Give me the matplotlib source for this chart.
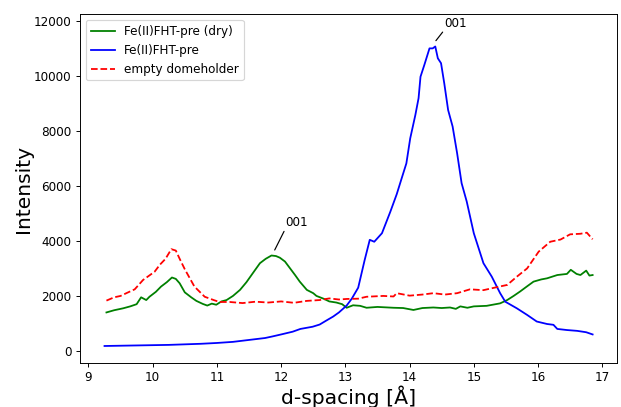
import matplotlib.pyplot as plt

# Fe(II)FHT-pre (dry)
x_dry = [9.28, 9.4, 9.54, 9.65, 9.75, 9.82, 9.9, 9.95, 10.05, 10.13, 10.22, 10.3, 10.36, 10.42,
         10.5, 10.6, 10.68, 10.78, 10.85, 10.92, 10.99, 11.07, 11.15, 11.25, 11.36, 11.46, 11.56,
         11.67, 11.76, 11.85, 11.92, 11.98, 12.06, 12.14, 12.22, 12.29, 12.4, 12.5, 12.55, 12.66,
         12.75, 12.86, 12.95, 13.02, 13.12, 13.23, 13.33, 13.5, 13.75, 13.9, 14.06, 14.2, 14.37,
         14.5, 14.63, 14.72, 14.79, 14.9, 15.0, 15.2, 15.41, 15.52, 15.62, 15.72, 15.83, 15.93,
         16.05, 16.14, 16.3, 16.45, 16.51, 16.6, 16.66, 16.75, 16.8, 16.85]
y_dry = [1400, 1480, 1550, 1620, 1700, 1950, 1850, 1970, 2150, 2340, 2500, 2670, 2620, 2460,
         2130, 1950, 1820, 1710, 1650, 1720, 1680, 1800, 1850, 2000, 2220, 2500, 2830,
         3190, 3350, 3470, 3450, 3390, 3250, 3000, 2750, 2520, 2220, 2100, 2000, 1900,
         1800, 1760, 1700, 1570, 1660, 1640, 1570, 1600, 1570, 1560, 1490, 1560, 1580,
         1560, 1580, 1530, 1620, 1570, 1620, 1640, 1730, 1850, 2000, 2160, 2350, 2520,
         2600, 2640, 2760, 2800, 2950, 2800, 2760, 2920, 2740, 2760]

# Fe(II)FHT-pre
x_wet = [9.25, 9.5, 9.75, 10.0, 10.25, 10.5, 10.75, 11.0, 11.25, 11.5, 11.75, 11.87, 12.0, 12.18,
         12.3, 12.49, 12.6, 12.7, 12.81, 12.9, 13.02, 13.1, 13.2, 13.3, 13.38, 13.45, 13.57, 13.7,
         13.8, 13.88, 13.95, 14.01, 14.09, 14.14, 14.17, 14.23, 14.31, 14.36, 14.4, 14.44, 14.49,
         14.54, 14.6, 14.67, 14.74, 14.81, 14.89, 15.0, 15.15, 15.28, 15.41, 15.49, 15.67, 15.83,
         15.98, 16.14, 16.24, 16.3, 16.45, 16.61, 16.75, 16.85]
y_wet = [180, 190, 200, 210, 220, 240, 260, 290, 330, 400, 470, 530, 600, 700,
         800, 880, 960, 1100, 1250, 1400, 1650, 1900, 2300, 3300, 4040, 3970, 4280, 5060,
         5700, 6300, 6820, 7730, 8580, 9190, 9970, 10400, 11000, 11000, 11070, 10640, 10460,
         9730, 8760, 8160, 7190, 6100, 5430, 4280, 3190, 2700, 2100, 1790, 1550, 1310,
         1070, 980, 950, 800, 760, 730, 680, 600]

# empty domeholder
x_empty = [9.28, 9.4, 9.5, 9.59, 9.72, 9.85, 10.03, 10.11, 10.2, 10.29, 10.36, 10.42, 10.5, 10.65,
           10.81, 10.95, 11.04, 11.2, 11.4, 11.6, 11.8, 12.0, 12.2, 12.4, 12.6, 12.75, 12.9, 13.02,
           13.2, 13.33, 13.59, 13.75, 13.8, 14.0, 14.2, 14.37, 14.55, 14.74, 14.94, 15.15, 15.36,
           15.52, 15.67, 15.83, 16.01, 16.19, 16.35, 16.5, 16.66, 16.76, 16.85]
y_empty = [1830, 1950, 2000, 2100, 2240, 2580, 2880, 3130, 3350, 3700, 3650, 3350, 2970, 2340,
           1970, 1850, 1780, 1780, 1740, 1790, 1760, 1800, 1750, 1820, 1850, 1910, 1870, 1890,
           1900, 1970, 2000, 1980, 2100, 2010, 2050, 2100, 2050, 2100, 2240, 2210, 2320,
           2400, 2700, 3000, 3610, 3970, 4050, 4240, 4260, 4300, 4060]

# drawn at 86 dpi so that the default 10pt text comes out at the reference's size
fig, ax = plt.subplots(figsize=(621 / 86, 407 / 86), dpi=86)
fig.subplots_adjust(left=0.129, right=0.9936, top=0.9656, bottom=0.108)

ax.plot(x_dry, y_dry, color='green', label='Fe(II)FHT-pre (dry)')
ax.plot(x_wet, y_wet, color='blue', label='Fe(II)FHT-pre')
ax.plot(x_empty, y_empty, color='red', linestyle='--', label='empty domeholder')

# peak labels
ax.annotate('001', xy=(14.41, 11280), xytext=(14.72, 11915), ha='center', va='center',
            arrowprops=dict(arrowstyle='-', color='black', relpos=(0, 0),
                            shrinkA=0, shrinkB=0))
ax.annotate('001', xy=(11.90, 3670), xytext=(12.24, 4670), ha='center', va='center',
            arrowprops=dict(arrowstyle='-', color='black', relpos=(0, 0),
                            shrinkA=0, shrinkB=0))

ax.set_xlim(8.87, 17.23)
ax.set_ylim(-440, 12250)
ax.set_xlabel('d-spacing [Å]', fontsize=17, labelpad=1)
ax.set_ylabel('Intensity', fontsize=17, labelpad=1)
ax.legend(loc='upper left')

plt.savefig('out.png', dpi=86)
